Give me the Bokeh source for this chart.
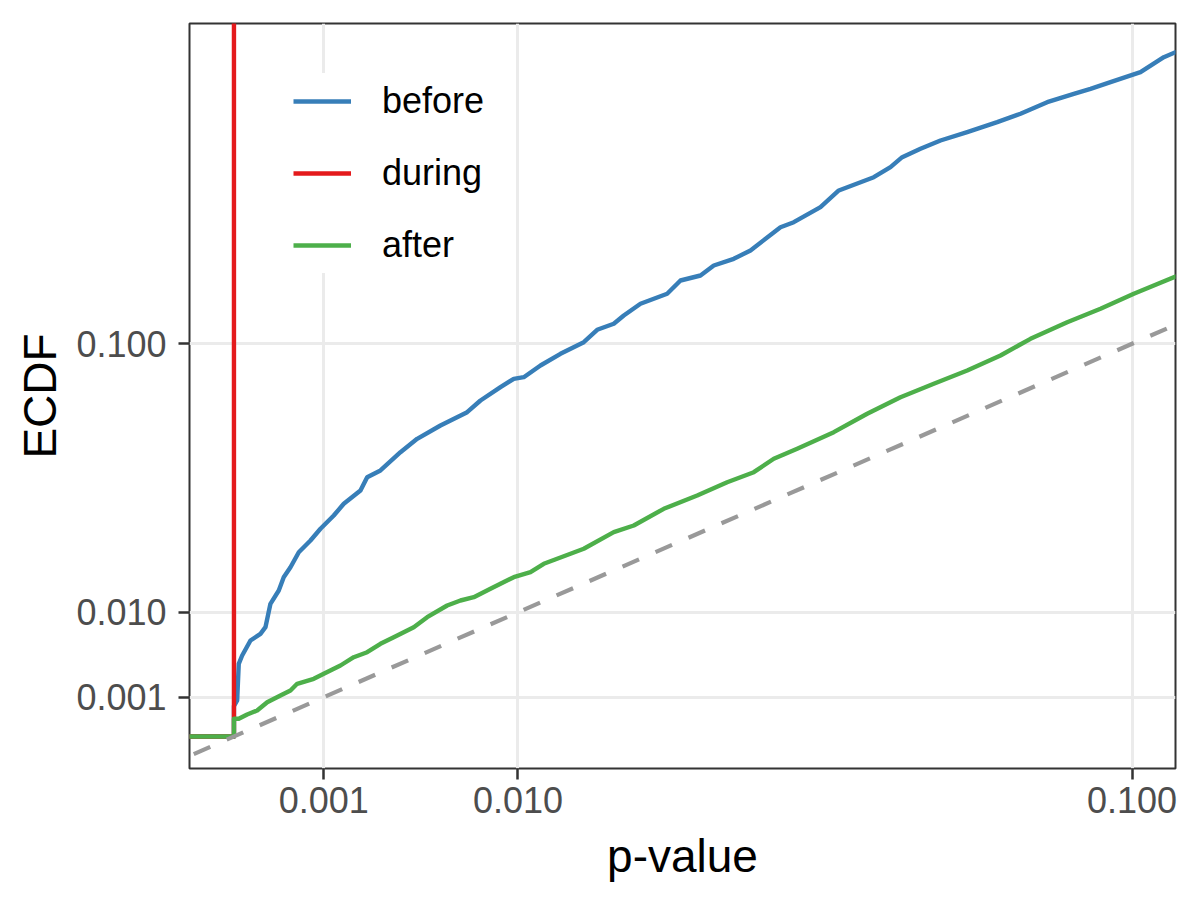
import numpy as np
from bokeh.plotting import figure
from bokeh.models import FixedTicker, CustomJSTickFormatter, Range1d, Slope
from bokeh.embed import file_html
from bokeh.resources import INLINE

# ---- data (p-value, ECDF) ----
series_names = ["before", "during", "after"]
series_colors = ["#377EB8", "#E41A1C", "#4DAF4A"]

before_p = [0.0, 0.0, 1.27e-6, 2.86e-6, 8.34e-6, 3.38e-5, 8.71e-5, 0.000123, 0.000165, 0.000249,
            0.000307, 0.000396, 0.000521, 0.000726, 0.000928, 0.001235, 0.001495, 0.001984,
            0.0022, 0.002661, 0.003437, 0.004161, 0.005287, 0.006743, 0.007534, 0.008806,
            0.009706, 0.010413, 0.011647, 0.013217, 0.015171, 0.016355, 0.017884, 0.018839,
            0.020487, 0.023267, 0.024718, 0.026982, 0.028542, 0.030971, 0.033075, 0.037029,
            0.038854, 0.042648, 0.045351, 0.050752, 0.053436, 0.055358, 0.058431, 0.061885,
            0.066651, 0.072217, 0.076694, 0.081989, 0.087441, 0.090953, 0.095251, 0.101882,
            0.107187, 0.109902]
before_ecdf = [0.0, 0.0006, 0.00084, 0.003426, 0.004253, 0.005974, 0.006837, 0.007745, 0.011416,
               0.013818, 0.016451, 0.018581, 0.022019, 0.024904, 0.027966, 0.031662, 0.035104,
               0.039232, 0.043589, 0.045869, 0.052399, 0.057452, 0.0627, 0.068178, 0.073187,
               0.079096, 0.082945, 0.083689, 0.089228, 0.094944, 0.10079, 0.10723, 0.11042,
               0.1149, 0.12138, 0.12705, 0.1348, 0.13777, 0.14382, 0.14793, 0.15312, 0.16815,
               0.17147, 0.18162, 0.19326, 0.20279, 0.21011, 0.21755, 0.22391, 0.23027, 0.23673,
               0.24464, 0.25137, 0.26082, 0.26777, 0.27196, 0.27753, 0.28608, 0.29914, 0.30357]

during_p = [0.0, 0.0]
during_ecdf = [0.0, 1.0]

after_p = [0.0, 0.0, 2.86e-6, 2.16e-5, 6.67e-5, 0.000137, 0.000268, 0.000396, 0.000495, 0.00079,
           0.001, 0.001406, 0.001779, 0.0022, 0.002661, 0.003166, 0.004008, 0.004628, 0.005636,
           0.006361, 0.00713, 0.008157, 0.009706, 0.0109, 0.0119, 0.014039, 0.015171, 0.017884,
           0.019818, 0.022903, 0.026601, 0.030159, 0.033499, 0.036127, 0.039327, 0.044604,
           0.04971, 0.055076, 0.060717, 0.066651, 0.072843, 0.078657, 0.086072, 0.09309,
           0.100382, 0.109902]
after_ecdf = [0.0, 0.000203, 0.000203, 0.000314, 0.000438, 0.000763, 0.00109, 0.001372, 0.0018,
              0.002158, 0.002549, 0.003268, 0.004077, 0.004607, 0.005571, 0.006392, 0.007745,
              0.009227, 0.011125, 0.011991, 0.012579, 0.014142, 0.016451, 0.0175, 0.019335,
              0.021639, 0.022839, 0.027058, 0.028862, 0.033611, 0.037652, 0.041923, 0.045285,
              0.049993, 0.053659, 0.060029, 0.067508, 0.074632, 0.080643, 0.08684, 0.094104,
              0.102534, 0.111272, 0.118587, 0.12705, 0.137174]

tick_values = [0.001, 0.01, 0.1]
x_limits = [-0.000245, 0.1099]    # signed value units at the panel edges
y_limits = [-0.000664, 0.32956]


def ssqrt(v):
    v = np.asarray(v, dtype=float)
    return np.sign(v) * np.sqrt(np.abs(v))


def pad(ps, es):
    # ECDF padding to -Inf / +Inf
    return [-1.0] + list(ps) + [1.0], [0.0] + list(es) + [es[-1]]


FONT = "Liberation Sans"

p = figure(frame_width=986, frame_height=745, min_border_left=189, min_border_top=23,
           min_border_right=9, min_border_bottom=116,
           output_backend="svg", toolbar_location=None,
           x_range=Range1d(*ssqrt(x_limits)), y_range=Range1d(*ssqrt(y_limits)))

p.background_fill_color = "white"
p.border_fill_color = "white"
p.outline_line_color = "#333333"
p.outline_line_width = 2

# reference line y = x
p.add_layout(Slope(gradient=1, y_intercept=0, line_color="#999999", line_width=4.2,
                   line_dash="18 18"))

series = [(before_p, before_ecdf), (during_p, during_ecdf), (after_p, after_ecdf)]
for name, color, (ps, es) in zip(series_names, series_colors, series):
    xs, ys = pad(ps, es)
    p.line(ssqrt(xs), ssqrt(ys), line_color=color, line_width=4.4, legend_label=name,
           line_join="round")

ticks = list(ssqrt(tick_values))
fmt = CustomJSTickFormatter(code="return (tick*tick).toFixed(3);")
for ax, lab in ((p.xaxis[0], "p-value"), (p.yaxis[0], "ECDF")):
    ax.ticker = FixedTicker(ticks=ticks)
    ax.formatter = fmt
    ax.axis_label = lab
    ax.axis_label_text_font = FONT
    ax.axis_label_text_font_size = "46px"
    ax.axis_label_text_font_style = "normal"
    ax.axis_label_text_color = "black"
    ax.major_label_text_font = FONT
    ax.major_label_text_font_size = "36px"
    ax.major_label_text_color = "#4D4D4D"
    ax.axis_line_color = None
    ax.major_tick_line_color = "#333333"
    ax.major_tick_line_width = 2.5
    ax.major_tick_out = 11
    ax.major_tick_in = 0
    ax.minor_tick_line_color = None

p.xaxis.major_label_standoff = 7
p.xaxis.axis_label_standoff = 14
p.yaxis.major_label_standoff = 12
p.yaxis.axis_label_standoff = 7

for g in (p.xgrid[0], p.ygrid[0]):
    g.ticker = FixedTicker(ticks=ticks)
    g.grid_line_color = "#EBEBEB"
    g.grid_line_width = 3

lg = p.legend[0]
lg.location = (104, 495)
lg.border_line_color = None
lg.background_fill_color = "white"
lg.background_fill_alpha = 1
lg.padding = 30
lg.spacing = 16
lg.glyph_height = 56
lg.glyph_width = 58
lg.label_height = 56
lg.label_standoff = 31
lg.label_text_font = FONT
lg.label_text_font_size = "36px"
lg.label_text_color = "black"
lg.margin = 0

open("out.html", "w").write(file_html(p, INLINE))
